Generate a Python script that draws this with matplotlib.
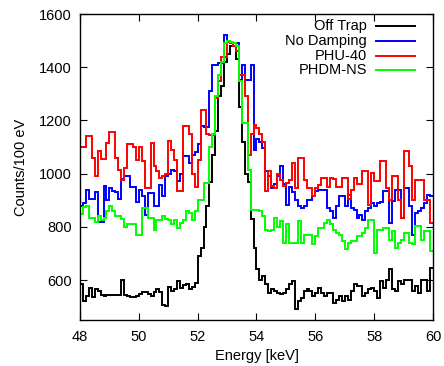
import numpy as np
import matplotlib
matplotlib.use("Agg")
import matplotlib.pyplot as plt

plt.rcParams['font.family'] = ['Liberation Sans', 'DejaVu Sans']

# bin edges: 48.0 .. 60.0 keV in 0.1 keV (100 eV) bins
bin_start = 48.0
bin_width = 0.1

off_trap = [
    585, 522, 542, 570, 535, 565, 558, 545, 540, 545,
    545, 545, 545, 545, 602, 545, 540, 535, 535, 540,
    546, 555, 555, 546, 540, 555, 565, 555, 505, 502,
    575, 560, 565, 596, 571, 580, 584, 565, 575, 590,
    690, 720, 800, 880, 970, 1070, 1160, 1290, 1330, 1420,
    1450, 1480, 1480, 1430, 1250, 1120, 1000, 970, 830, 720,
    640, 600, 615, 584, 552, 565, 559, 552, 546, 552,
    565, 584, 596, 490, 521, 534, 559, 565, 560, 540,
    552, 570, 552, 540, 552, 552, 515, 527, 540, 521,
    540, 527, 560, 584, 577, 577, 540, 552, 565, 570,
    559, 534, 596, 570, 602, 640, 565, 559, 596, 584,
    600, 602, 602, 559, 577, 552, 600, 602, 560, 646,
]
no_damping = [
    880, 890, 940, 905, 905, 930, 820, 820, 955, 900,
    945, 935, 930, 905, 980, 990, 990, 950, 950, 895,
    940, 915, 846, 927, 927, 877, 877, 959, 915, 990,
    1000, 1015, 1010, 971, 1000, 1065, 1065, 1040, 1071, 1080,
    1110, 1180, 1175, 1175, 1310, 1410, 1410, 1415, 1415, 1520,
    1500, 1490, 1490, 1490, 1352, 1409, 1352, 1352, 1409, 1090,
    1130, 1120, 1095, 1009, 990, 946, 960, 990, 1027, 960,
    884, 950, 930, 902, 877, 870, 880, 902, 902, 915,
    934, 940, 940, 940, 870, 860, 834, 880, 915, 915,
    880, 921, 870, 865, 834, 845, 827, 860, 870, 890,
    877, 890, 895, 934, 934, 815, 896, 940, 940, 834,
    946, 946, 880, 771, 852, 860, 870, 890, 921, 915,
]
phu_40 = [
    1100, 1100, 1140, 1140, 1060, 990, 1085, 1055, 1055, 1115,
    1155, 1155, 1060, 1015, 975, 1020, 1110, 1110, 1100, 1050,
    1100, 1046, 946, 946, 1115, 1027, 1009, 984, 990, 1000,
    1121, 1090, 1050, 934, 934, 1180, 1180, 1150, 1000, 950,
    1050, 1240, 1240, 1150, 1145, 1145, 1284, 1350, 1440, 1440,
    1496, 1490, 1480, 1460, 1370, 1370, 1290, 1071, 1150, 1184,
    1170, 1150, 1120, 934, 1010, 952, 946, 1000, 977, 952,
    965, 977, 1040, 946, 1059, 1059, 977, 946, 946, 915,
    945, 959, 984, 984, 950, 984, 980, 950, 950, 984,
    984, 906, 940, 984, 960, 960, 1009, 1009, 884, 1002,
    971, 971, 1046, 1046, 946, 902, 990, 990, 900, 834,
    1084, 1084, 1027, 902, 977, 977, 977, 902, 902, 815,
]
phdm_ns = [
    850, 875, 880, 835, 835, 820, 840, 825, 835, 860,
    880, 860, 840, 840, 830, 800, 810, 810, 810, 770,
    770, 870, 870, 834, 834, 790, 827, 827, 840, 830,
    827, 809, 827, 796, 815, 827, 859, 852, 827, 859,
    900, 900, 965, 965, 1100, 1150, 1290, 1370, 1421, 1490,
    1500, 1495, 1490, 1480, 1350, 1190, 1190, 1015, 865, 865,
    865, 859, 840, 790, 784, 790, 834, 800, 821, 740,
    809, 740, 740, 740, 821, 740, 771, 771, 771, 734,
    765, 796, 796, 815, 827, 809, 790, 777, 771, 746,
    715, 740, 746, 746, 765, 765, 777, 796, 827, 827,
    700, 790, 790, 795, 795, 752, 784, 721, 740, 750,
    777, 777, 740, 734, 802, 802, 752, 784, 784, 709,
]

labels = ["Off Trap", "No Damping", "PHU-40", "PHDM-NS"]
colors = ["#000000", "#0000ff", "#ff0000", "#00ff00"]
series = [off_trap, no_damping, phu_40, phdm_ns]

x_ticks = [48, 50, 52, 54, 56, 58, 60]
y_ticks = [600, 800, 1000, 1200, 1400, 1600]

fig = plt.figure(figsize=(4.44, 3.66), dpi=100)
ax = fig.add_axes([80/444, 1-320/366, 353/444, 306/366])

n = len(off_trap)
edges = bin_start + bin_width * np.arange(n + 1)
for vals, c in zip(series, colors):
    ax.stairs(vals, edges, color=c, lw=1.4, baseline=None)

ax.set_xlim(48, 60)
ax.set_ylim(450, 1600)
ax.set_xticks(x_ticks)
ax.set_yticks(y_ticks)
ax.tick_params(direction='in', length=5, width=0.8, top=True, right=True,
               labelsize=10.5)
ax.tick_params(axis='x', pad=7)
ax.tick_params(axis='y', pad=6)
for s in ax.spines.values():
    s.set_linewidth(1.0)

ax.set_xlabel("Energy [keV]", fontsize=10.5, labelpad=4)
ax.set_ylabel("Counts/100 eV", fontsize=10.5, labelpad=8)

# gnuplot-style key: right-aligned text, sample line to the right
ys = [0.961, 0.912, 0.864, 0.817]
for lab, c, yy in zip(labels, colors, ys):
    ax.text(0.813, yy, lab, ha='right', va='center', fontsize=10.5,
            transform=ax.transAxes)
    ax.plot([0.8385, 0.949], [yy, yy], color=c, lw=1.4,
            transform=ax.transAxes, clip_on=False)

fig.savefig("out.png", dpi=100)
